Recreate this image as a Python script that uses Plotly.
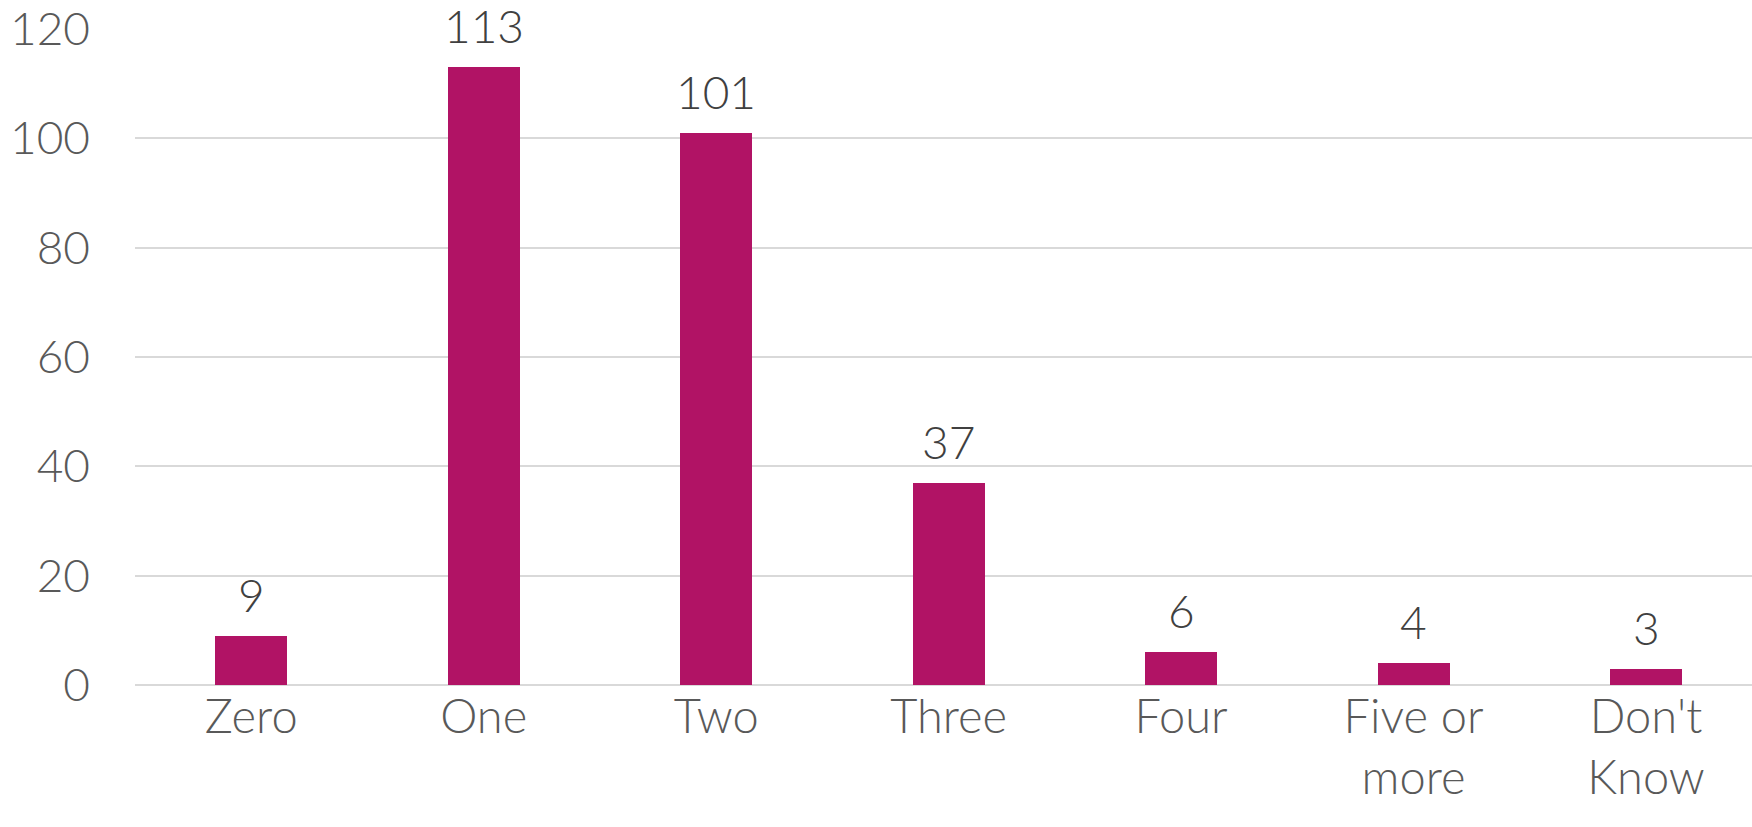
import plotly.graph_objects as go

categories = ["Zero", "One", "Two", "Three", "Four", "Five or<br>more", "Don't<br>Know"]
counts = [9, 113, 101, 37, 6, 4, 3]
y_ticks = [0, 20, 40, 60, 80, 100, 120]

BAR = "#B11365"
FONT = "Lato, 'Open Sans', sans-serif"

xs = list(range(len(categories)))

fig = go.Figure(
    go.Bar(
        x=xs,
        y=counts,
        width=0.31,
        marker=dict(color=BAR, line=dict(width=0)),
        cliponaxis=False,
    )
)

for xi, v in zip(xs, counts):
    fig.add_annotation(
        x=xi, y=v, text=str(v), showarrow=False,
        yanchor="bottom", yshift=12,
        font=dict(family=FONT, size=46, color="#404040", weight=300),
    )

fig.update_layout(
    width=1752,
    height=827,
    margin=dict(l=135, r=0, t=29, b=142),
    paper_bgcolor="white",
    plot_bgcolor="white",
    showlegend=False,
    bargap=0,
    font=dict(family=FONT, size=46, color="#595959", weight=300),
)

fig.update_xaxes(
    range=[-0.5, 6.456],
    tickmode="array",
    tickvals=xs,
    ticktext=categories,
    showgrid=False,
    showline=False,
    zeroline=False,
    ticks="",
    tickfont=dict(family=FONT, size=47, color="#595959", weight=300),
    ticklabelstandoff=0,
)

fig.update_yaxes(
    range=[0, 120],
    tickmode="array",
    tickvals=y_ticks,
    showgrid=True,
    gridcolor="#D9D9D9",
    gridwidth=1.5,
    zeroline=True,
    zerolinecolor="#D9D9D9",
    zerolinewidth=1.5,
    showline=False,
    ticks="",
    tickfont=dict(family=FONT, size=46, color="#595959", weight=300),
    ticklabelstandoff=44,
)

fig.write_html("out.html")
